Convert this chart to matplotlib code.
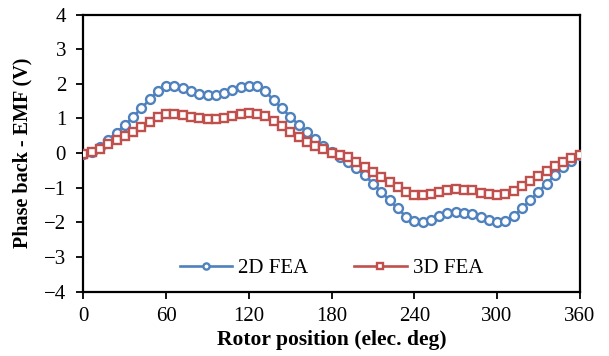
import matplotlib
matplotlib.use("Agg")
import matplotlib.pyplot as plt

# Rotor position (electrical degrees), sampled every 6 degrees
rotor_deg = list(range(0, 361, 6))

# Phase back-EMF (V) from 2D finite-element analysis
emf_2d = [-0.04, 0.04, 0.18, 0.38, 0.59, 0.81, 1.05, 1.29, 1.55, 1.79,
          1.94, 1.94, 1.87, 1.79, 1.71, 1.68, 1.68, 1.73, 1.83, 1.91,
          1.95, 1.93, 1.78, 1.53, 1.29, 1.05, 0.82, 0.60, 0.40, 0.20,
          0.04, -0.11, -0.25, -0.44, -0.64, -0.88, -1.12, -1.36, -1.60, -1.84,
          -1.96, -1.99, -1.92, -1.82, -1.74, -1.71, -1.72, -1.76, -1.86, -1.94,
          -1.99, -1.96, -1.82, -1.60, -1.36, -1.12, -0.88, -0.64, -0.41, -0.22,
          -0.06]

# Phase back-EMF (V) from 3D finite-element analysis
emf_3d = [-0.04, 0.03, 0.13, 0.26, 0.38, 0.49, 0.62, 0.76, 0.90, 1.04,
          1.12, 1.13, 1.10, 1.05, 1.00, 0.98, 0.98, 1.02, 1.07, 1.13,
          1.16, 1.14, 1.06, 0.92, 0.77, 0.62, 0.47, 0.33, 0.21, 0.11,
          0.01, -0.05, -0.12, -0.27, -0.40, -0.54, -0.68, -0.83, -0.97, -1.12,
          -1.21, -1.21, -1.17, -1.12, -1.07, -1.05, -1.06, -1.08, -1.14, -1.19,
          -1.21, -1.19, -1.09, -0.95, -0.80, -0.66, -0.51, -0.38, -0.25, -0.15,
          -0.06]

x_ticks = [0, 60, 120, 180, 240, 300, 360]
y_ticks = [-4, -3, -2, -1, 0, 1, 2, 3, 4]

plt.rcParams["font.family"] = ["Liberation Serif", "DejaVu Serif"]

fig = plt.figure(figsize=(6.09, 3.56), dpi=100)
ax = fig.add_axes([0.137, 0.181, 0.815, 0.778])

blue = "#4F81BD"
red = "#C0504D"

ax.plot(rotor_deg, emf_2d, color=blue, lw=1.9, marker="o", ms=6.4,
        mfc="white", mec=blue, mew=1.7, label="2D FEA", zorder=3)
ax.plot(rotor_deg, emf_3d, color=red, lw=1.9, marker="s", ms=6.0,
        mfc="white", mec=red, mew=1.7, label="3D FEA", zorder=4)

ax.set_xlim(0, 360)
ax.set_ylim(-4, 4)
ax.set_xticks(x_ticks)
ax.set_yticks(y_ticks)
ax.tick_params(axis="both", direction="out", length=5, width=1.3,
               labelsize=15, colors="black")
ax.tick_params(axis="y", pad=7.5)
ax.tick_params(axis="x", pad=6)

for sp in ax.spines.values():
    sp.set_linewidth(1.6)
    sp.set_color("black")

ax.set_xlabel("Rotor position (elec. deg)", fontsize=15.5, fontweight="bold",
              labelpad=3)
ax.set_ylabel("Phase back - EMF (V)", fontsize=14.5, fontweight="bold",
              labelpad=8)

leg = ax.legend(loc="lower center", ncol=2, frameon=False, fontsize=15,
                handlelength=2.5, columnspacing=2.2, handletextpad=0.3,
                markerscale=0.7, bbox_to_anchor=(0.5, -0.02))

fig.savefig("out.png", dpi=100)
